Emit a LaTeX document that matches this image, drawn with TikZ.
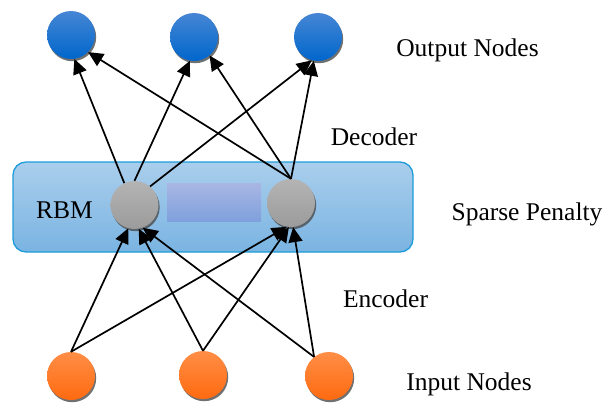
\documentclass[tikz,border=0pt]{standalone}
\usepackage{fontspec}
\setmainfont{Liberation Serif}
\usetikzlibrary{arrows.meta,shadows}
\definecolor{bluetop}{RGB}{70,134,212}
\definecolor{bluebot}{RGB}{0,102,204}
\definecolor{graytop}{RGB}{180,180,180}
\definecolor{graybot}{RGB}{155,155,155}
\definecolor{orgtop}{RGB}{255,142,70}
\definecolor{orgbot}{RGB}{255,106,16}
\definecolor{boxtop}{RGB}{170,206,236}
\definecolor{boxbot}{RGB}{122,180,226}
\definecolor{boxline}{RGB}{30,156,218}
\definecolor{intop}{RGB}{168,182,228}
\definecolor{inbot}{RGB}{128,160,220}
\tikzset{
  unit/.style={circle, minimum size=48pt, inner sep=0pt,
    drop shadow={shadow xshift=1.2pt, shadow yshift=-2.2pt, fill=black!70, opacity=0.8}},
  outnode/.style={unit, top color=bluetop, bottom color=bluebot},
  hidnode/.style={unit, top color=graytop, bottom color=graybot},
  innode/.style={unit, top color=orgtop, bottom color=orgbot},
  conn/.style={line width=1.7pt, -{Triangle[length=15pt,width=14pt]}},
  lbl/.style={font=\fontsize{25.5}{30}\selectfont, anchor=base, inner sep=0pt}
}
\begin{document}
\begin{tikzpicture}[x=1pt,y=-1pt]
\useasboundingbox (0,0) rectangle (607,407);
% RBM box
\node[draw=boxline, line width=1.3pt, rounded corners=13pt, top color=boxtop, bottom color=boxbot,
  minimum width=400pt, minimum height=90pt, inner sep=0pt] (rbmbox) at (213,207) {};
\node[top color=intop, bottom color=inbot, minimum width=94pt, minimum height=38pt, inner sep=0pt] (pen) at (214,202) {};
% nodes
\node[outnode] (O1) at (71,35) {};
\node[outnode] (O2) at (194,37) {};
\node[outnode] (O3) at (318,37) {};
\node[hidnode] (A) at (134.5,205) {};
\node[hidnode] (B) at (291,203) {};
\node[innode] (I1) at (71,376) {};
\node[innode] (I2) at (203,375) {};
\node[innode] (I3) at (329,376) {};
% labels
\node[lbl] (tout) at (467.5,56) {Output Nodes};
\node[lbl] (tdec) at (374,145) {Decoder};
\node[lbl] (tsp) at (527,220) {Sparse Penalty};
\node[lbl] (trbm) at (64.5,218) {RBM};
\node[lbl] (tenc) at (385.5,307) {Encoder};
\node[lbl] (tin) at (469,390) {Input Nodes};
% decoder connections
\draw[conn] (A.115) -- (O1.-82);
\draw[conn] (A.north) -- (O2.-100);
\draw[conn] (A.50) -- (O3.-105);
\draw[conn] (B.north) -- (O1.-45);
\draw[conn] (B.north) -- (O2.-50);
\draw[conn] (B.north) -- (O3.-100);
% encoder connections
\draw[conn] (I1.north) -- (A.-105);
\draw[conn] (I1.north) -- (B.-100);
\draw[conn] (I2.north) -- (A.-80);
\draw[conn] (I2.north) -- (B.-95);
\draw[conn] (I3.128) -- (A.-70);
\draw[conn] (I3.128) -- (B.-85);
\end{tikzpicture}
\end{document}
